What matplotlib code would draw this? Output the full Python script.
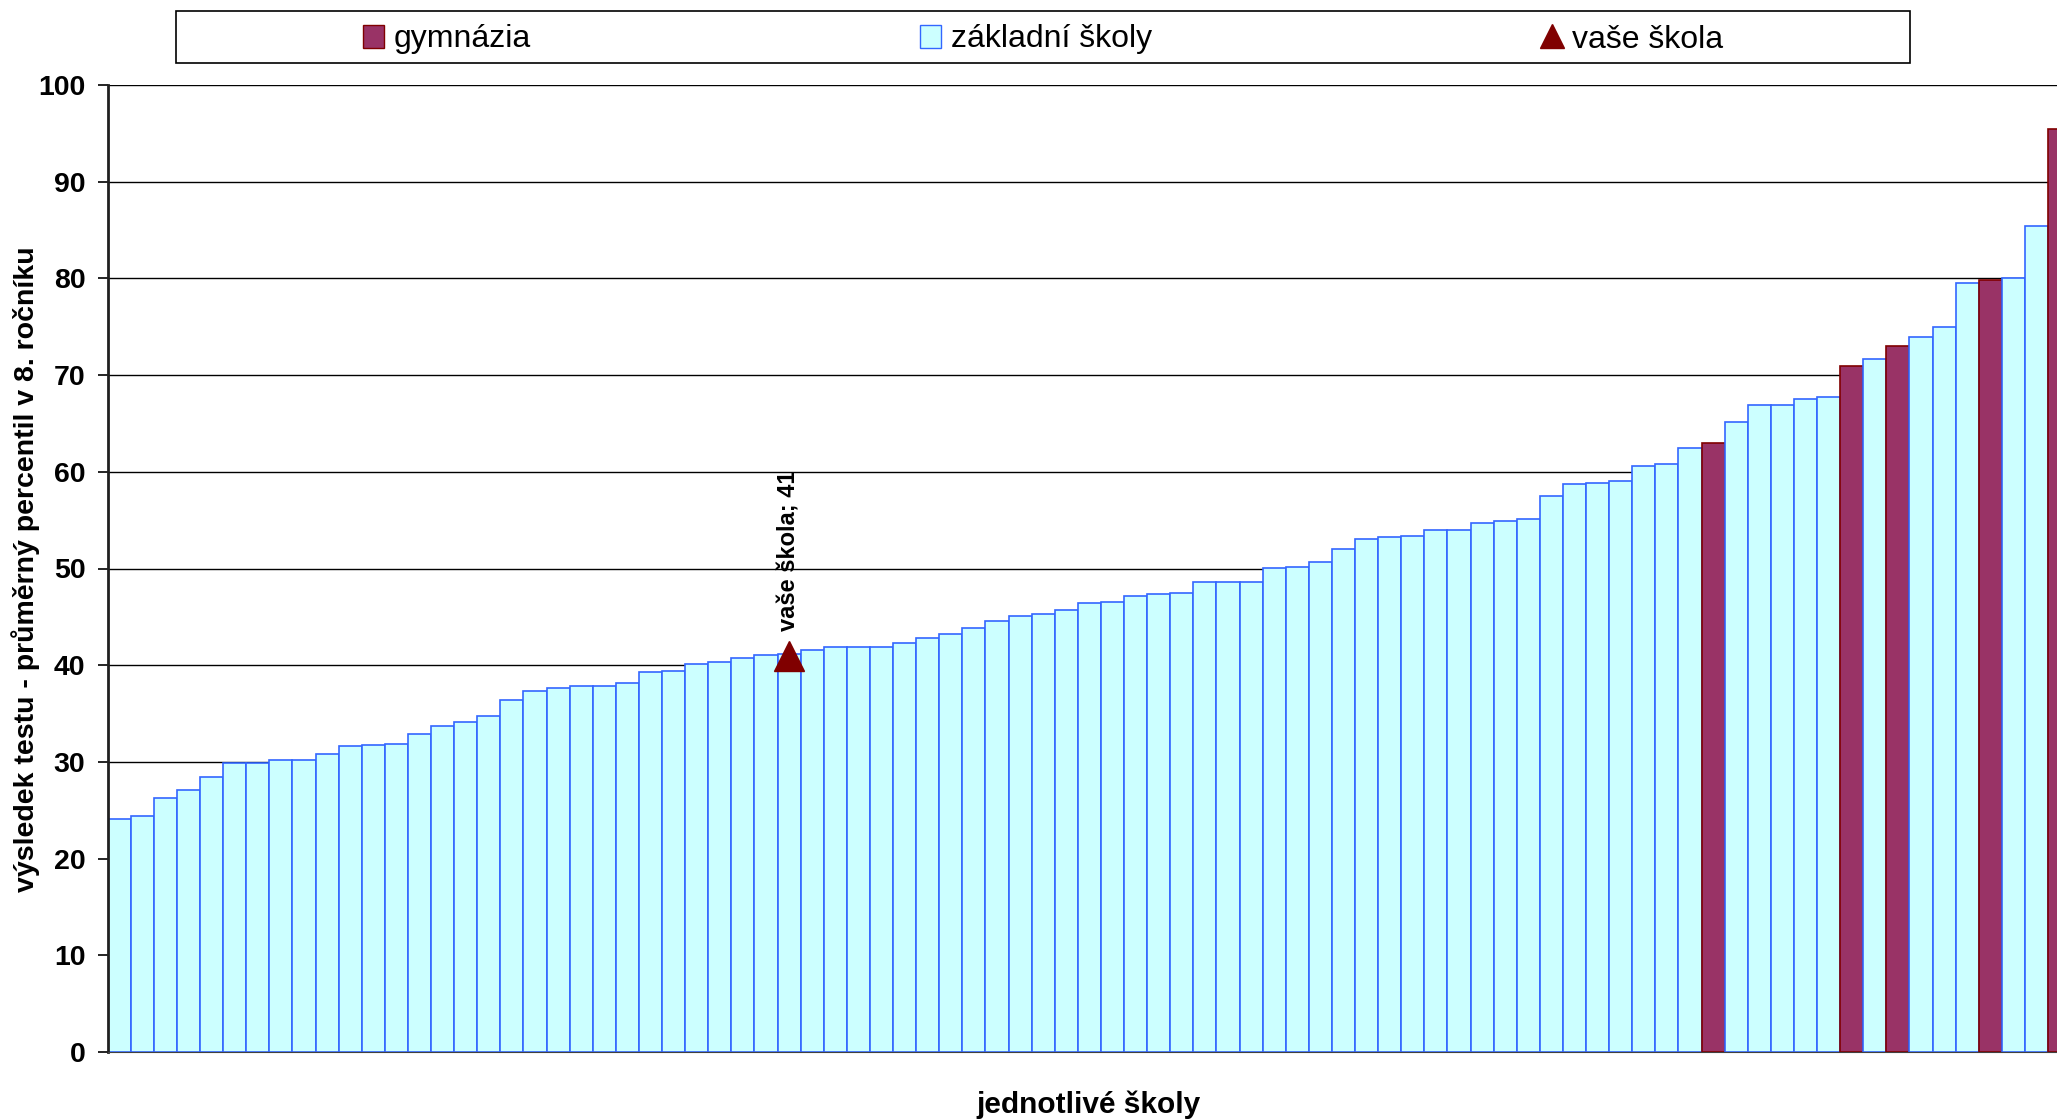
import matplotlib
matplotlib.use("Agg")
import matplotlib.pyplot as plt
from matplotlib.patches import Patch, Rectangle
from matplotlib.lines import Line2D

plt.rcParams['font.family'] = ['Liberation Sans', 'DejaVu Sans']

# Values, sorted ascending (one bar per school)
values = [
    24.1, 24.4, 26.3, 27.1, 28.4, 29.9, 29.9, 30.2, 30.2, 30.8,
    31.6, 31.7, 31.9, 32.9, 33.7, 34.1, 34.7, 36.4, 37.3, 37.6,
    37.8, 37.8, 38.2, 39.3, 39.4, 40.1, 40.3, 40.7, 41.1, 41.2,
    41.6, 41.9, 41.9, 41.9, 42.3, 42.8, 43.2, 43.8, 44.6, 45.1,
    45.3, 45.7, 46.4, 46.5, 47.2, 47.4, 47.5, 48.6, 48.6, 48.6,
    50.1, 50.2, 50.7, 52.0, 53.1, 53.3, 53.4, 54.0, 54.0, 54.7,
    54.9, 55.1, 57.5, 58.7, 58.8, 59.0, 60.6, 60.8, 62.5, 63.0,
    65.2, 66.9, 66.9, 67.5, 67.7, 70.9, 71.7, 73.0, 73.9, 75.0,
    79.5, 79.8, 80.0, 85.4, 95.4,
]
# 1-based positions of the gymnázia bars
gym_positions = [70, 76, 78, 82, 85]

your_school_pos = 30
your_school_value = 41

legend_labels = ["gymnázia", "základní školy", "vaše škola"]
ylabel = "výsledek testu - průměrný percentil v 8. ročníku"
xlabel = "jednotlivé školy"
yticks = list(range(0, 101, 10))

GYM_FACE = '#993366'
GYM_EDGE = '#800000'
ZS_FACE = '#CCFFFF'
ZS_EDGE = '#3366FF'
TRI_COLOR = '#800000'

W, H = 2057, 1120
fig = plt.figure(figsize=(W / 100, H / 100), dpi=100)

# plot area runs slightly past the right edge, as in the reference
ax = fig.add_axes([107.6 / W, 68 / H, 1963.5 / W, 967 / H])

x = list(range(len(values)))
faces = [GYM_FACE if (i + 1) in gym_positions else ZS_FACE for i in x]
edges = [GYM_EDGE if (i + 1) in gym_positions else ZS_EDGE for i in x]
ax.bar(x, values, width=1.0, color=faces, edgecolor=edges, linewidth=1.2, zorder=2)

# your school marker + label
ax.plot([your_school_pos - 1], [your_school_value], marker='^', ms=21,
        color=TRI_COLOR, ls='none', zorder=4)
ax.annotate(f"vaše škola; {your_school_value}",
            xy=(your_school_pos - 1, your_school_value), xytext=(0, 18),
            textcoords='offset points', rotation=90, ha='center', va='bottom',
            fontsize=17, fontweight='bold', zorder=5)

ax.set_xlim(-0.5, len(values) - 0.5)
ax.set_ylim(0, 100)
ax.set_yticks(yticks)
ax.set_xticks([])
ax.yaxis.grid(True, color='black', linewidth=1)
ax.set_axisbelow(True)
ax.tick_params(axis='y', direction='out', length=7, width=1.2, pad=9,
               labelsize=20.5)
for lbl in ax.get_yticklabels():
    lbl.set_fontweight('bold')

for side in ['top', 'right']:
    ax.spines[side].set_visible(False)
ax.spines['left'].set_linewidth(2)
ax.spines['left'].set_color('#202020')
ax.spines['bottom'].set_color('#404040')

fig.text(26 / W, 1 - 569 / H, ylabel, rotation=90, ha='center', va='center',
         fontsize=20.5, fontweight='bold')
fig.text(1089 / W, 1 - 1105 / H, xlabel, ha='center', va='center',
         fontsize=21.5, fontweight='bold')

# legend: framed box across the top
box = Rectangle((176 / W, 1 - 63 / H), (1910 - 176) / W, (63 - 10.5) / H,
                transform=fig.transFigure, facecolor='white', edgecolor='black',
                linewidth=1.2)
fig.add_artist(box)
handles = [
    Patch(facecolor=GYM_FACE, edgecolor=GYM_EDGE),
    Patch(facecolor=ZS_FACE, edgecolor=ZS_EDGE),
    Line2D([], [], marker='^', color=TRI_COLOR, ls='none', ms=17),
]
fig.legend(handles, legend_labels, loc='center',
           bbox_to_anchor=((176 + 1910) / 2 / W, 1 - 39.5 / H),
           ncol=3, frameon=False, fontsize=23, handlelength=0.65,
           handleheight=0.7, handletextpad=0.3, columnspacing=12.2)

fig.savefig("out.png", dpi=100)
